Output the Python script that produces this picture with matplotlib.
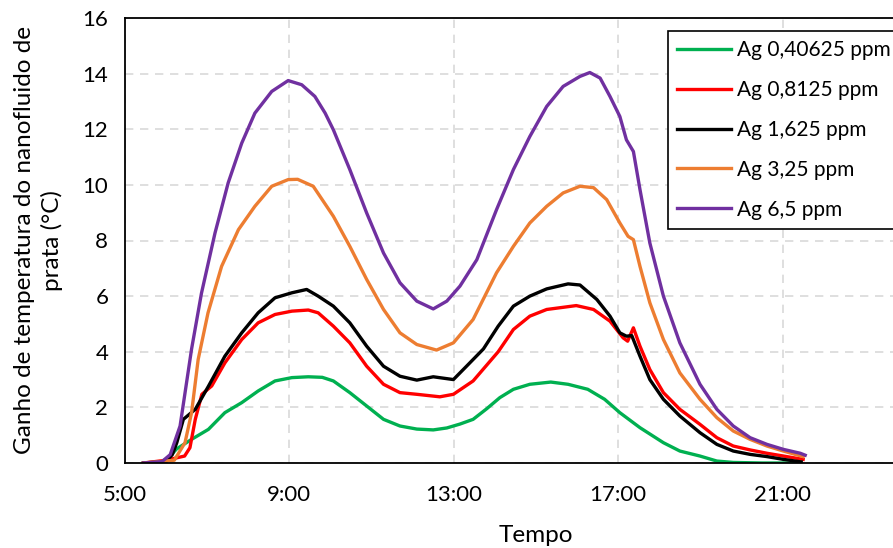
import matplotlib.pyplot as plt
from matplotlib.ticker import FixedLocator, FuncFormatter, MultipleLocator

plt.rcParams["font.family"] = ["Lato", "DejaVu Sans"]

# tempo em horas decimais, ganho de temperatura (°C)
t_green = [5.45, 5.9, 6.14, 6.25, 6.62, 7.03, 7.43, 7.84, 8.24, 8.65, 9.06, 9.46, 9.8, 10.07, 10.47, 10.88,
           11.29, 11.69, 12.1, 12.5, 12.83, 13.15, 13.47, 13.8, 14.12, 14.45, 14.85, 15.36, 15.78, 16.26,
           16.67, 17.04, 17.53, 18.1, 18.5, 18.99, 19.4, 19.8, 20.5, 21.45]
v_green = [0.0, 0.02, 0.31, 0.5, 0.85, 1.21, 1.81, 2.17, 2.59, 2.95, 3.07, 3.1, 3.08, 2.95, 2.53, 2.05,
           1.57, 1.33, 1.22, 1.19, 1.26, 1.4, 1.57, 1.95, 2.35, 2.65, 2.83, 2.91, 2.83, 2.65,
           2.29, 1.81, 1.27, 0.73, 0.43, 0.25, 0.07, 0.02, 0.0, 0.0]

t_red = [5.45, 6.0, 6.45, 6.58, 6.71, 6.87, 7.11, 7.43, 7.84, 8.24, 8.65, 9.06, 9.46, 9.7, 10.07, 10.47,
         10.88, 11.29, 11.69, 12.1, 12.66, 12.99, 13.47, 14.08, 14.45, 14.85, 15.26, 15.98, 16.4, 16.8,
         17.12, 17.23, 17.37, 17.53, 17.77, 18.1, 18.5, 18.99, 19.4, 19.8, 20.21, 20.62, 21.02, 21.5]
v_red = [0.0, 0.1, 0.25, 0.55, 1.57, 2.47, 2.77, 3.6, 4.44, 5.04, 5.34, 5.46, 5.5, 5.4, 4.92, 4.32,
         3.48, 2.83, 2.53, 2.47, 2.38, 2.47, 2.95, 4.0, 4.8, 5.28, 5.52, 5.66, 5.52, 5.1,
         4.5, 4.38, 4.86, 4.2, 3.36, 2.53, 1.93, 1.39, 0.91, 0.61, 0.47, 0.35, 0.25, 0.13]

t_black = [5.45, 6.0, 6.15, 6.26, 6.42, 6.71, 7.03, 7.43, 7.84, 8.24, 8.65, 9.06, 9.42, 9.7, 10.07, 10.47,
           10.88, 11.29, 11.69, 12.1, 12.5, 12.99, 13.31, 13.72, 14.08, 14.45, 14.85, 15.26, 15.78, 16.07,
           16.48, 16.8, 17.04, 17.2, 17.33, 17.53, 17.77, 18.1, 18.5, 18.99, 19.4, 19.8, 20.21, 20.62,
           21.02, 21.45]
v_black = [0.0, 0.05, 0.3, 0.73, 1.57, 1.93, 2.76, 3.84, 4.68, 5.4, 5.94, 6.12, 6.24, 6.0, 5.64, 5.04,
           4.2, 3.48, 3.12, 2.98, 3.1, 3.0, 3.48, 4.1, 4.92, 5.64, 6.0, 6.26, 6.44, 6.4,
           5.88, 5.28, 4.68, 4.56, 4.58, 3.84, 3.0, 2.29, 1.69, 1.09, 0.67, 0.43, 0.31, 0.23,
           0.13, 0.04]

t_orange = [5.45, 6.2, 6.46, 6.62, 6.78, 7.02, 7.35, 7.76, 8.16, 8.57, 8.97, 9.2, 9.58, 10.07, 10.47,
            10.88, 11.29, 11.69, 12.1, 12.58, 12.99, 13.47, 14.04, 14.45, 14.85, 15.26, 15.66, 16.07,
            16.4, 16.72, 17.04, 17.24, 17.37, 17.53, 17.77, 18.1, 18.5, 18.99, 19.4, 19.8, 20.21, 20.62,
            21.02, 21.5]
v_orange = [0.0, 0.1, 0.73, 1.81, 3.72, 5.4, 7.07, 8.39, 9.23, 9.95, 10.19, 10.2, 9.95, 8.87, 7.79,
            6.6, 5.52, 4.68, 4.26, 4.06, 4.32, 5.16, 6.84, 7.79, 8.63, 9.23, 9.71, 9.95,
            9.9, 9.47, 8.63, 8.15, 8.03, 7.07, 5.76, 4.44, 3.24, 2.29, 1.63, 1.15, 0.85, 0.61,
            0.43, 0.23]

t_purple = [5.45, 5.9, 6.1, 6.34, 6.62, 6.86, 7.19, 7.51, 7.84, 8.16, 8.57, 8.97, 9.3, 9.62, 9.87, 10.07,
            10.47, 10.88, 11.29, 11.69, 12.1, 12.5, 12.83, 13.15, 13.56, 14.04, 14.45, 14.85, 15.26,
            15.66, 16.07, 16.31, 16.56, 16.8, 17.04, 17.2, 17.37, 17.53, 17.77, 18.1, 18.5, 18.99, 19.4,
            19.8, 20.21, 20.62, 21.02, 21.43, 21.55]
v_purple = [0.0, 0.05, 0.3, 1.33, 4.1, 6.1, 8.27, 10.07, 11.5, 12.58, 13.36, 13.75, 13.6, 13.18, 12.58, 11.98,
            10.55, 8.99, 7.55, 6.48, 5.82, 5.54, 5.82, 6.36, 7.31, 9.11, 10.55, 11.74, 12.82,
            13.54, 13.9, 14.04, 13.84, 13.18, 12.46, 11.62, 11.2, 9.83, 7.91, 6.0, 4.32, 2.83, 1.93,
            1.33, 0.91, 0.67, 0.49, 0.35, 0.28]

labels = ["Ag 0,40625 ppm", "Ag 0,8125 ppm", "Ag 1,625 ppm", "Ag 3,25 ppm", "Ag 6,5 ppm"]
colors = ["#00B050", "#FF0000", "#000000", "#ED7D31", "#7030A0"]
x_ticks = [5, 9, 13, 17, 21]

fig = plt.figure(figsize=(8.93, 5.48), dpi=100)
ax = fig.add_axes([125 / 893, 85 / 548, 822 / 893, 445 / 548])

series = [(t_green, v_green), (t_red, v_red), (t_black, v_black), (t_orange, v_orange), (t_purple, v_purple)]
for (t, v), lab, c in zip(series, labels, colors):
    ax.plot(t, v, color=c, lw=2.4, label=lab, solid_joinstyle="round")

ax.set_xlim(5, 25)
ax.set_ylim(0, 16)
ax.xaxis.set_major_locator(FixedLocator(x_ticks))
ax.yaxis.set_major_locator(MultipleLocator(2))
ax.xaxis.set_major_formatter(FuncFormatter(lambda x, p: f"{int(x)}:00"))
ax.grid(True, color="#d9d9d9", ls=(0, (5, 4)), lw=1.2)
ax.set_axisbelow(True)
ax.tick_params(axis="x", length=0, labelsize=16, pad=16)
ax.tick_params(axis="y", length=0, labelsize=16, pad=12)
for s in ax.spines.values():
    s.set_linewidth(1.3)

ax.set_xlabel("Tempo", fontsize=17.5, labelpad=14)
ax.set_ylabel("Ganho de temperatura do nanofluido de\nprata (°C)", fontsize=17.5, labelpad=14, linespacing=1.3)

leg = ax.legend(loc="upper left", bbox_to_anchor=(668 / 893, 1 - 31 / 548), bbox_transform=fig.transFigure,
                fancybox=False, edgecolor="black", fontsize=15, handlelength=2.55, labelspacing=0.95,
                handletextpad=0.3, borderpad=0.45, borderaxespad=0, framealpha=1)
leg.get_frame().set_linewidth(1.2)

fig.savefig("out.png", dpi=100)
